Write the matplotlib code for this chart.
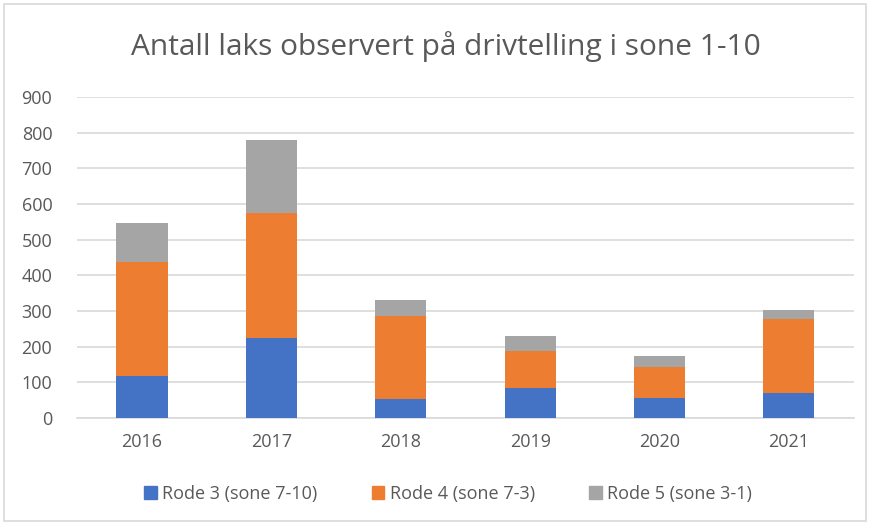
import matplotlib
matplotlib.use("Agg")
import matplotlib.pyplot as plt
from matplotlib.patches import Rectangle, Patch
import numpy as np

years = ["2016", "2017", "2018", "2019", "2020", "2021"]
rode3 = [117, 225, 54, 83, 57, 70]
rode4 = [321, 350, 231, 105, 86, 207]
rode5 = [110, 205, 46, 41, 32, 25]
series_names = ["Rode 3 (sone 7-10)", "Rode 4 (sone 7-3)", "Rode 5 (sone 3-1)"]
colors = ["#4472C4", "#ED7D31", "#A5A5A5"]
yticks = [0, 100, 200, 300, 400, 500, 600, 700, 800, 900]

plt.rcParams['font.family'] = ['Open Sans', 'DejaVu Sans']
txt = "#595959"

fig = plt.figure(figsize=(8.7, 5.24), dpi=100)
fig.patches.append(Rectangle((0.005, 0.005), 0.99, 0.988, transform=fig.transFigure,
                             fill=False, edgecolor="#d9d9d9", linewidth=1.2))
ax = fig.add_axes([0.0889, 0.2023, 0.8922, 0.6127])

x = np.arange(len(years))
w = 0.395
b1 = np.array(rode3)
b2 = b1 + np.array(rode4)
ax.bar(x, rode3, w, color=colors[0], label=series_names[0], zorder=3)
ax.bar(x, rode4, w, bottom=b1, color=colors[1], label=series_names[1], zorder=3)
ax.bar(x, rode5, w, bottom=b2, color=colors[2], label=series_names[2], zorder=3)

ax.set_xlim(-0.5, len(years) - 0.5)
ax.set_ylim(0, 900)
ax.set_yticks(yticks)
ax.set_yticklabels([str(t) for t in yticks])
ax.set_xticks(x)
ax.set_xticklabels(years)
ax.yaxis.grid(True, color="#d9d9d9", linewidth=1.2, zorder=0)
ax.set_axisbelow(True)
for s in ["top", "right", "left"]:
    ax.spines[s].set_visible(False)
ax.spines["bottom"].set_color("#d9d9d9")
ax.spines["bottom"].set_linewidth(1.2)
ax.tick_params(axis="both", length=0, labelsize=13, labelcolor=txt)
ax.tick_params(axis="y", pad=18)
ax.tick_params(axis="x", pad=11)

fig.text(0.512, 0.912, "Antall laks observert på drivtelling i sone 1-10",
         ha="center", va="center", fontsize=21.5, color=txt)

handles = [Patch(color=c) for c in colors]
fig.legend(handles, series_names, loc="center", bbox_to_anchor=(0.515, 0.057),
           ncol=3, frameon=False, fontsize=13, labelcolor=txt,
           handlelength=0.7, handleheight=0.7, handletextpad=0.3, columnspacing=3.0)

fig.savefig("out.png", dpi=100)
